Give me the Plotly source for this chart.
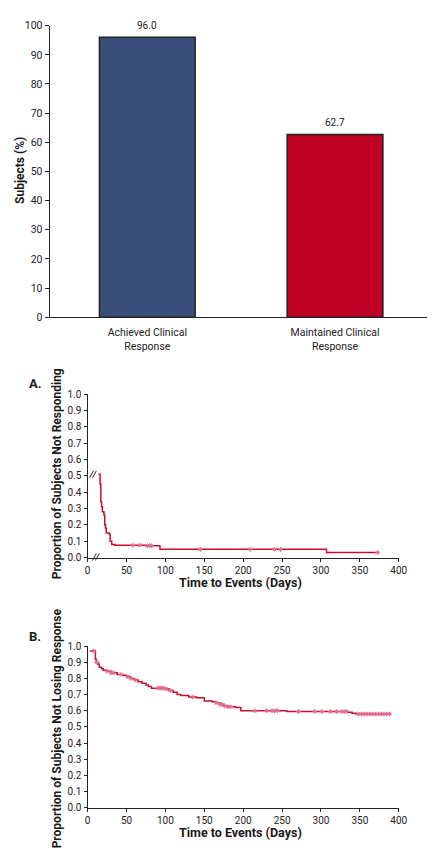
import numpy as np
import plotly.graph_objects as go

W, H = 436, 857
FONT = "Roboto, Liberation Sans, sans-serif"

# ---- Data ----
bar_categories = ["Achieved Clinical<br>Response", "Maintained Clinical<br>Response"]
bar_values = [96.0, 62.7]
bar_colors = ["#3B4E7A", "#BE0027"]

a_times = [14, 16, 17, 18, 19, 21, 22, 23, 24, 28, 29, 31, 35, 75, 93, 307, 373]
a_surv = [0.51, 0.45, 0.34, 0.31, 0.28, 0.26, 0.20, 0.18, 0.15, 0.14, 0.10, 0.08, 0.075, 0.072, 0.05, 0.03, 0.03]
a_censor = [58, 67, 77, 80, 82, 145, 209, 240, 248, 373]

b_times = [3, 10, 11, 13, 15, 18, 20, 25, 30, 38, 45, 50, 55, 60, 65, 70, 75, 78, 82, 100, 105,
           110, 115, 120, 130, 140, 150, 160, 165, 170, 175, 180, 190, 197, 256, 335, 340, 345, 390]
b_surv = [0.97, 0.92, 0.90, 0.89, 0.87, 0.86, 0.85, 0.845, 0.835, 0.825, 0.82, 0.81, 0.80, 0.79,
          0.78, 0.77, 0.76, 0.75, 0.74, 0.735, 0.725, 0.715, 0.70, 0.695, 0.685, 0.68, 0.66, 0.655,
          0.65, 0.64, 0.63, 0.625, 0.62, 0.60, 0.595, 0.59, 0.585, 0.58, 0.58]
b_censor = [8, 12, 25, 30, 33, 43, 52, 56, 62, 91, 93, 95, 97, 101, 106, 135, 165, 170, 172, 176,
            180, 184, 215, 230, 237, 240, 244, 271, 292, 301, 312, 320, 326, 330, 333, 348, 352,
            356, 360, 364, 368, 372, 376, 380, 384, 388]

x_ticks = [0, 50, 100, 150, 200, 250, 300, 350, 400]
y_ticks_km = [0.0, 0.1, 0.2, 0.3, 0.4, 0.5, 0.6, 0.7, 0.8, 0.9, 1.0]
y_ticks_bar = list(range(0, 101, 10))


def step_at(times, surv, t):
    i = np.searchsorted(np.asarray(times), t, side="right") - 1
    return float(np.asarray(surv)[max(i, 0)])


def px(x):
    return x / W


def py(y):
    return 1 - y / H


LINE = "#C8102E"
CENS = "#E07090"
DARK = "#1a1a1a"

fig = go.Figure()

fig.add_trace(go.Bar(
    x=bar_categories, y=bar_values, marker=dict(color=bar_colors, line=dict(color="#222", width=1.5)),
    width=0.51, xaxis="x", yaxis="y", showlegend=False))

for cat, v in zip(bar_categories, bar_values):
    fig.add_annotation(x=cat, y=v, xref="x", yref="y", text=f"{v:.1f}", showarrow=False,
                       yshift=12, font=dict(family=FONT, size=10, color="#222"))

fig.add_trace(go.Scatter(x=a_times, y=a_surv, mode="lines", line=dict(color=LINE, width=1.5, shape="hv"),
                         xaxis="x2", yaxis="y2", showlegend=False))
fig.add_trace(go.Scatter(x=a_censor, y=[step_at(a_times, a_surv, t) for t in a_censor], mode="markers",
                         marker=dict(symbol="asterisk-open", size=4, color=CENS, line=dict(color=CENS, width=1)),
                         xaxis="x2", yaxis="y2", showlegend=False))

fig.add_trace(go.Scatter(x=b_times, y=b_surv, mode="lines", line=dict(color=LINE, width=1.5, shape="hv"),
                         xaxis="x3", yaxis="y3", showlegend=False))
fig.add_trace(go.Scatter(x=b_censor, y=[step_at(b_times, b_surv, t) for t in b_censor], mode="markers",
                         marker=dict(symbol="asterisk-open", size=4, color=CENS, line=dict(color=CENS, width=1)),
                         xaxis="x3", yaxis="y3", showlegend=False))

tickfont = dict(family=FONT, size=10, color="#222")
axcommon = dict(showline=True, linecolor="#222", linewidth=1.2, ticks="outside", ticklen=3,
                tickcolor="#222", showgrid=False, zeroline=False, tickfont=tickfont)

fig.update_layout(
    width=W, height=H, margin=dict(l=0, r=0, t=0, b=0),
    paper_bgcolor="white", plot_bgcolor="white",
    xaxis=dict(domain=[px(48), 1], range=[-0.52, 1.49], showline=True, linecolor="#222", linewidth=1.2,
               ticks="outside", ticklen=5, tickcolor="rgba(0,0,0,0)", showgrid=False, zeroline=False,
               tickfont=dict(family=FONT, size=10.5, color="#222"), anchor="y"),
    yaxis=dict(domain=[py(316), py(20)], range=[0, 100], tickvals=y_ticks_bar, anchor="x",
               **{**axcommon, "ticklen": 4, "tickfont": dict(family=FONT, size=10.5, color="#222")}),
    xaxis2=dict(domain=[px(87), px(407)], range=[0, 400], tickvals=x_ticks, anchor="y2", **axcommon),
    yaxis2=dict(domain=[py(560), py(394)], range=[0, 1], tickvals=y_ticks_km, tickformat=".1f", anchor="x2", **axcommon),
    xaxis3=dict(domain=[px(87), px(407)], range=[0, 400], tickvals=x_ticks, anchor="y3", **axcommon),
    yaxis3=dict(domain=[py(814), py(650)], range=[0, 1], tickvals=y_ticks_km, tickformat=".1f", anchor="x3", **axcommon),
)

ytitlefont = dict(family=FONT, size=12, color=DARK, weight="bold")
xtitlefont = dict(family=FONT, size=12.5, color=DARK, weight="bold")

# axis titles
fig.add_annotation(text="Subjects (%)", x=px(18), y=py(167), xref="paper", yref="paper", textangle=-90,
                   showarrow=False, xanchor="center", yanchor="middle", font=ytitlefont)
fig.add_annotation(text="Proportion of Subjects Not Responding", x=px(55), y=py(475), xref="paper", yref="paper",
                   textangle=-90, showarrow=False, xanchor="center", yanchor="middle", font=ytitlefont)
fig.add_annotation(text="Proportion of Subjects Not Losing Response", x=px(55), y=py(733), xref="paper", yref="paper",
                   textangle=-90, showarrow=False, xanchor="center", yanchor="middle", font=ytitlefont)
fig.add_annotation(text="Time to Events (Days)", x=px(244), y=py(585), xref="paper", yref="paper",
                   showarrow=False, xanchor="center", yanchor="middle", font=xtitlefont)
fig.add_annotation(text="Time to Events (Days)", x=px(244), y=py(839), xref="paper", yref="paper",
                   showarrow=False, xanchor="center", yanchor="middle", font=xtitlefont)

# panel labels
for lab, yy in [("A.", 383), ("B.", 640)]:
    fig.add_annotation(text=lab, x=px(33), y=py(yy), xref="paper", yref="paper", xanchor="center",
                       yanchor="middle", showarrow=False, font=dict(family=FONT, size=13, color=DARK, weight="bold"))

# axis break marks for panel A
for (x0, y0) in [(89, 479), (92, 479), (92, 563), (95, 563)]:
    fig.add_shape(type="line", xref="paper", yref="paper", x0=px(x0), y0=py(y0), x1=px(x0 + 4), y1=py(y0 - 7),
                  line=dict(color="#222", width=1))

fig.write_html("out.html")
